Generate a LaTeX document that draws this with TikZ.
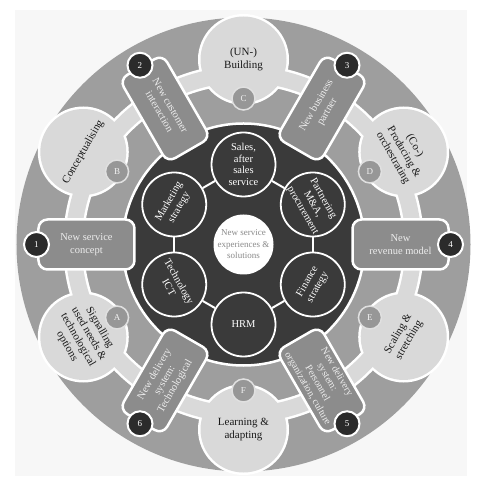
\documentclass[tikz,border=0pt]{standalone}
\usepackage{fontspec}
\setmainfont{Liberation Serif}
\definecolor{outergray}{HTML}{9E9E9E}
\definecolor{trackgray}{HTML}{D9D9D9}
\definecolor{boxgray}{HTML}{8C8C8C}
\definecolor{corefill}{HTML}{3A3A3A}
\definecolor{numfill}{HTML}{2B2B2B}
\definecolor{lettergray}{HTML}{979797}
\definecolor{coretext}{HTML}{8A8A8A}
\begin{document}
\begin{tikzpicture}[x=1pt,y=1pt,
  stage/.style={circle, minimum size=86pt, inner sep=0pt, fill=trackgray,
    align=center, text=black!90, font=\fontsize{11}{12.5}\selectfont},
  letter/.style={circle, minimum size=23pt, inner sep=0pt, fill=lettergray,
    draw=white!88!black, line width=1.5pt, text=white!95!black,
    font=\fontsize{9}{9}\selectfont},
  newbox/.style={rectangle, rounded corners=9pt, minimum width=96pt,
    minimum height=50pt, inner sep=1pt, fill=boxgray, draw=white,
    line width=2.5pt, align=center, text=white!93!black,
    font=\fontsize{10.5}{12.5}\selectfont},
  num/.style={circle, minimum size=25pt, inner sep=0pt, fill=numfill,
    draw=white, line width=2pt, text=white, font=\fontsize{9}{9}\selectfont},
  unitc/.style={circle, minimum size=64pt, inner sep=0pt, fill=corefill,
    draw=white, line width=1.8pt, align=center, text=white,
    font=\fontsize{10.5}{11.8}\selectfont},
  core/.style={circle, minimum size=60pt, inner sep=0pt, fill=white,
    align=center, text=coretext, font=\fontsize{9}{11.5}\selectfont},
  link/.style={draw=white, line width=2pt}
]
\useasboundingbox (-243.5,-241.5) rectangle (233.5,244.5);
% faint backdrop
\fill[black!3] (-228.5,-231.5) rectangle (223.5,234.5);

% outer disk
\fill[outergray] (0,0) circle (227);

% ring track with the six stage circles, outlined as one shape
\draw[white, line width=21pt] (0,0) circle (170);
\foreach \a in {90,30,-30,-90,-150,150}
  \fill[white] (\a:185) circle (45.5);
\draw[trackgray, line width=16pt] (0,0) circle (170);

\node[stage] (sC) at (90:185) {(UN-)\\Building};
\node[stage, rotate=-60] (sD) at (30:185) {(Co-)\\Producing \&\\orchestrating};
\node[stage, rotate=60] (sE) at (-30:185) {Scaling \&\\stretching};
\node[stage] (sF) at (-90:185) {Learning \&\\adapting};
\node[stage, rotate=-60] (sA) at (-150:185) {Signalling\\used needs \&\\technological\\options};
\node[stage, rotate=60] (sB) at (150:185) {Conceptualising};

% stage letters
\node[letter] (lC) at (90:146) {C};
\node[letter] (lD) at (30:146) {D};
\node[letter] (lE) at (-30:146) {E};
\node[letter] (lF) at (-90:146) {F};
\node[letter] (lA) at (-150:146) {A};
\node[letter] (lB) at (150:146) {B};

% dark core disk
\fill[corefill, draw=white, line width=2.5pt] (0,0) circle (121);

% innovation boxes
\node[newbox] (b1) at (180:157) {New service\\concept};
\node[newbox, rotate=-60] (b2) at (120:157) {New customer\\interaction};
\node[newbox, rotate=60] (b3) at (60:157) {New business\\partner};
\node[newbox] (b4) at (0:157) {New\\revenue model};
\node[newbox, rotate=-60, font=\fontsize{10}{11.2}\selectfont] (b5) at (-60:157)
  {New delivery\\system:\\Personnel\\organization, culture};
\node[newbox, rotate=60, font=\fontsize{10.5}{11.8}\selectfont] (b6) at (-120:157)
  {New delivery\\system:\\Technological};

% box numbers
\node[num] (n1) at (180:207) {1};
\node[num] (n2) at (120:207) {2};
\node[num] (n3) at (60:207) {3};
\node[num] (n4) at (0:207) {4};
\node[num] (n5) at (-60:207) {5};
\node[num] (n6) at (-120:207) {6};

% functional units around the core
\node[unitc] (u1) at (90:80) {Sales,\\after\\sales\\service};
\node[unitc, rotate=-60] (u2) at (30:80) {Partnering\\M\&A,\\procurement};
\node[unitc, rotate=60] (u3) at (-30:80) {Finance\\strategy};
\node[unitc] (u4) at (-90:80) {HRM};
\node[unitc, rotate=-60] (u5) at (-150:80) {Technology\\ICT};
\node[unitc, rotate=60] (u6) at (150:80) {Marketing\\strategy};

\draw[link] (u1) -- (u2);
\draw[link] (u2) -- (u3);
\draw[link] (u3) -- (u4);
\draw[link] (u4) -- (u5);
\draw[link] (u5) -- (u6);
\draw[link] (u6) -- (u1);

\node[core] (core) at (0,0) {New service\\experiences \&\\solutions};
\end{tikzpicture}
\end{document}
